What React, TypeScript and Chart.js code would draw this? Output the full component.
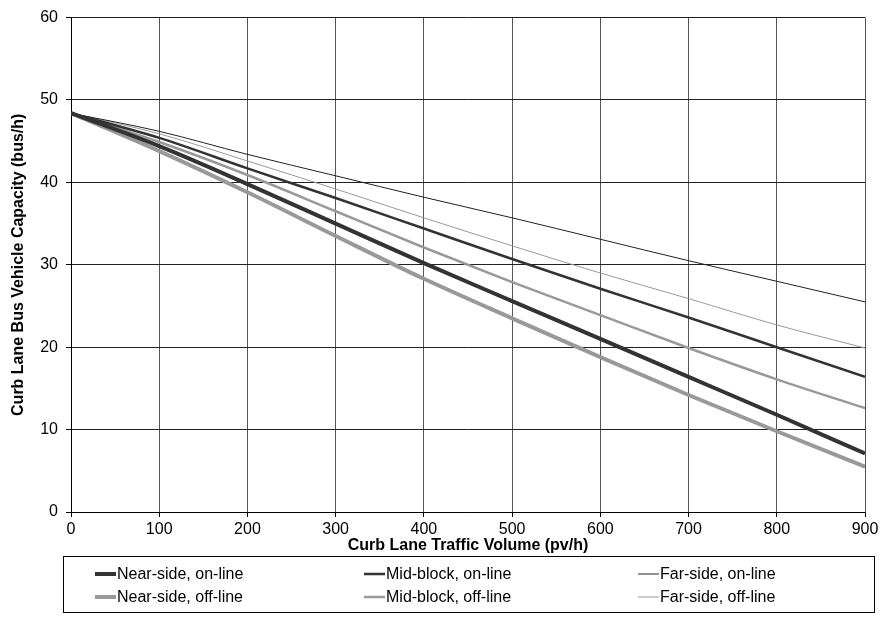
import React, { useEffect, useRef } from "react";
import { Chart, registerables } from "chart.js";

Chart.register(...registerables);

const volumes = [0, 100, 200, 300, 400, 500, 600, 700, 800, 900];

const nearSideOnLine = [48.4, 44.4, 39.8, 35.0, 30.2, 25.6, 21.0, 16.4, 11.8, 7.1];
const midBlockOnLine = [48.4, 45.4, 41.7, 38.1, 34.4, 30.7, 27.1, 23.6, 20.0, 16.4];
const farSideOnLine = [48.4, 46.2, 43.4, 40.8, 38.2, 35.7, 33.1, 30.5, 28.0, 25.5];
const nearSideOffLine = [48.4, 43.8, 38.8, 33.5, 28.3, 23.5, 18.8, 14.2, 9.8, 5.5];
const midBlockOffLine = [48.4, 44.9, 40.9, 36.5, 32.1, 27.9, 23.9, 19.9, 16.1, 12.6];
const farSideOffLine = [48.4, 45.9, 42.6, 39.2, 35.7, 32.3, 29.0, 25.9, 22.7, 19.9];

const seriesLabels = [
  "Near-side, on-line",
  "Mid-block, on-line",
  "Far-side, on-line",
  "Near-side, off-line",
  "Mid-block, off-line",
  "Far-side, off-line",
];

const xTitle = "Curb Lane Traffic Volume (pv/h)";
const yTitle = "Curb Lane Bus Vehicle Capacity (bus/h)";

const FONT = "'Liberation Sans', Arial, sans-serif";

const legendPlugin = {
  id: "boxLegend",
  afterDraw(chart: any) {
    const ctx = chart.ctx;
    const area = chart.chartArea;
    ctx.save();
    // x axis title
    ctx.fillStyle = "#000";
    ctx.font = `bold 16px ${FONT}`;
    ctx.textAlign = "center";
    ctx.textBaseline = "middle";
    ctx.fillText(xTitle, (area.left + area.right) / 2, 546);

    // legend box
    const boxL = 63.5, boxT = 556.5, boxW = 811, boxH = 56;
    ctx.strokeStyle = "#000";
    ctx.lineWidth = 1;
    ctx.strokeRect(boxL, boxT, boxW, boxH);

    const colX = [95, 364, 638];
    const rowY = [574, 597];
    ctx.font = `16px ${FONT}`;
    ctx.textAlign = "left";
    chart.data.datasets.forEach((ds: any, i: number) => {
      const col = i % 3;
      const row = Math.floor(i / 3);
      const x = colX[col];
      const y = rowY[row];
      ctx.strokeStyle = ds.borderColor;
      ctx.lineWidth = ds.borderWidth;
      ctx.beginPath();
      ctx.moveTo(x, y);
      ctx.lineTo(x + 21, y);
      ctx.stroke();
      ctx.fillStyle = "#000";
      ctx.fillText(ds.label, x + 22, y + 1);
    });
    ctx.restore();
  },
};

export default function App() {
  const ref = useRef<HTMLCanvasElement | null>(null);

  useEffect(() => {
    if (!ref.current) return;
    const styles = [
      { color: "#333333", width: 4 },
      { color: "#333333", width: 2.5 },
      { color: "#222222", width: 1 },
      { color: "#999999", width: 4 },
      { color: "#999999", width: 2.5 },
      { color: "#999999", width: 1 },
    ];
    const seriesValues = [
      nearSideOnLine,
      midBlockOnLine,
      farSideOnLine,
      nearSideOffLine,
      midBlockOffLine,
      farSideOffLine,
    ];
    const datasets = seriesValues.map((vals, i) => ({
      label: seriesLabels[i],
      data: vals.map((v, j) => ({ x: volumes[j], y: v })),
      borderColor: styles[i].color,
      backgroundColor: styles[i].color,
      borderWidth: styles[i].width,
      pointRadius: 0,
      cubicInterpolationMode: "monotone" as const,
      fill: false,
    }));
    const chart = new Chart(ref.current, {
      type: "line",
      data: { datasets },
      options: {
        animation: false,
        responsive: false,
        maintainAspectRatio: false,
        layout: { padding: { top: 15, right: 15, left: 0, bottom: 0 } },
        plugins: {
          legend: { display: false },
          tooltip: { enabled: false },
        },
        scales: {
          x: {
            type: "linear",
            min: 0,
            max: 900,
            ticks: {
              stepSize: 100,
              color: "#000",
              font: { family: FONT, size: 16 },
              padding: 3,
              maxRotation: 0,
            },
            grid: { color: "#555", lineWidth: 1, tickLength: 5, tickColor: "#000" },
            border: { display: true, color: "#000" },
            afterFit: (s: any) => {
              s.height = 634 - 512;
              s.paddingRight = 0;
              s.paddingLeft = 0;
            },
          },
          y: {
            min: 0,
            max: 60,
            ticks: {
              stepSize: 10,
              color: "#000",
              font: { family: FONT, size: 16 },
              padding: 8,
            },
            grid: { color: "#222", lineWidth: 1, tickLength: 5, tickColor: "#000" },
            border: { display: true, color: "#000" },
            title: {
              display: true,
              text: yTitle,
              color: "#000",
              font: { family: FONT, size: 16, weight: "bold" },
              padding: { top: 9, bottom: 0 },
            },
            afterFit: (s: any) => {
              s.width = 71;
            },
          },
        },
      },
      plugins: [legendPlugin],
    });
    return () => chart.destroy();
  }, []);

  return (
    <div style={{ position: "fixed", left: 0, top: 0, width: 880, height: 634, background: "#fff" }}>
      <canvas ref={ref} width={880} height={634} style={{ width: 880, height: 634, display: "block" }} />
    </div>
  );
}
